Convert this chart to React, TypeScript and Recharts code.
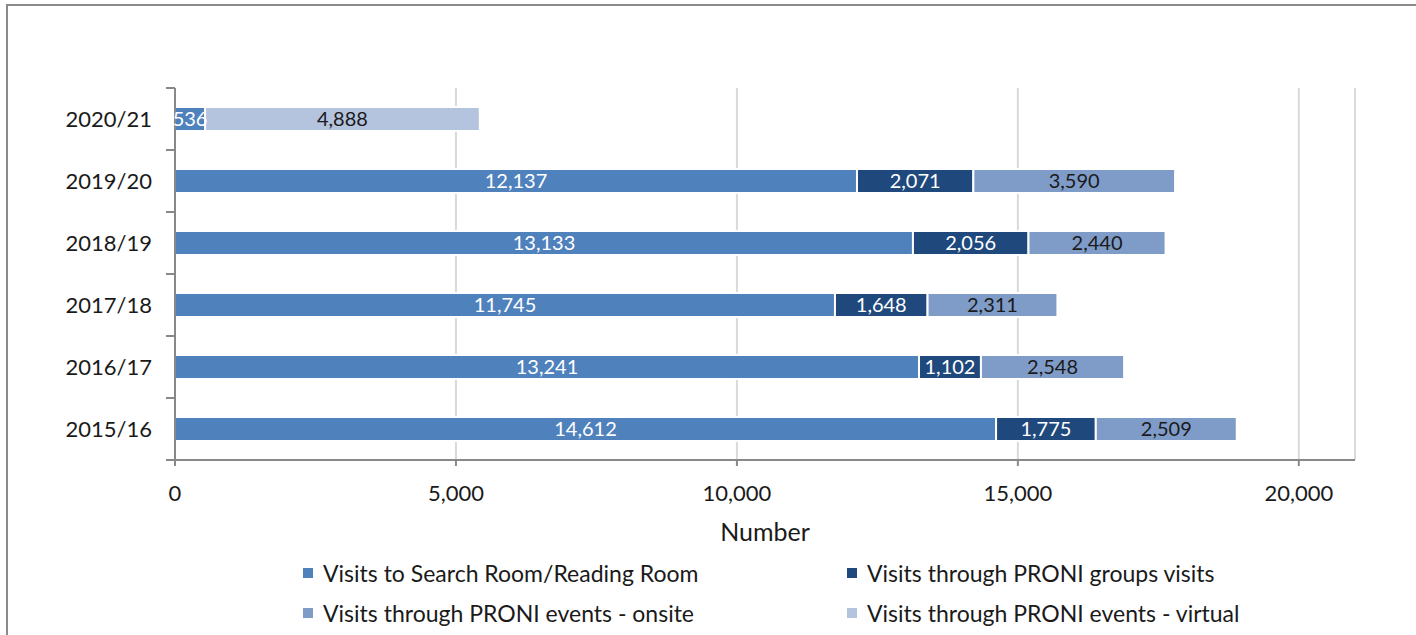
import React from 'react';
import {
  BarChart,
  Bar,
  XAxis,
  YAxis,
  CartesianGrid,
  LabelList,
} from 'recharts';

const years = ['2020/21', '2019/20', '2018/19', '2017/18', '2016/17', '2015/16'];
const searchRoom = [536, 12137, 13133, 11745, 13241, 14612];
const groupVisits = [null, 2071, 2056, 1648, 1102, 1775];
const eventsOnsite = [null, 3590, 2440, 2311, 2548, 2509];
const eventsVirtual = [4888, null, null, null, null, null];
const xTicks = [0, 5000, 10000, 15000, 20000];

const series = [
  { key: 'searchRoom', name: 'Visits to Search Room/Reading Room', color: '#4F81BD', text: '#ffffff' },
  { key: 'groupVisits', name: 'Visits through PRONI groups visits', color: '#1F497D', text: '#ffffff' },
  { key: 'eventsOnsite', name: 'Visits through PRONI events - onsite', color: '#7F9CC9', text: '#1a1a1a' },
  { key: 'eventsVirtual', name: 'Visits through PRONI events - virtual', color: '#B4C3DE', text: '#1a1a1a' },
];

const data = years.map((year, i) => ({
  year,
  searchRoom: searchRoom[i],
  groupVisits: groupVisits[i],
  eventsOnsite: eventsOnsite[i],
  eventsVirtual: eventsVirtual[i],
}));

const FONT = 'Lato, "Open Sans", sans-serif';
const TOP = 88;
const PLOT_H = 372;
const AXIS_X = 175;
const HALF_BAND = PLOT_H / years.length / 2;

const fmt = (v: any) => (v == null ? '' : Number(v).toLocaleString('en-US'));

function YearTick(props: any) {
  const { x, y, payload } = props;
  return (
    <g>
      <text x={x} y={y} dy={8} textAnchor="end" fontSize={22} fill="#1a1a1a">
        {payload.value}
      </text>
      <line x1={AXIS_X - 9} x2={AXIS_X} y1={y - HALF_BAND} y2={y - HALF_BAND} stroke="#888" strokeWidth={2} />
      <line x1={AXIS_X - 9} x2={AXIS_X} y1={y + HALF_BAND} y2={y + HALF_BAND} stroke="#888" strokeWidth={2} />
    </g>
  );
}

const legendPos = [
  { left: 303, top: 573 },
  { left: 847, top: 573 },
  { left: 303, top: 613 },
  { left: 847, top: 613 },
];

export default function App() {
  return (
    <div
      style={{
        position: 'fixed',
        left: 0,
        top: 0,
        width: 1416,
        height: 635,
        overflow: 'hidden',
        background: '#fff',
        fontFamily: FONT,
      }}
    >
      <div
        style={{
          position: 'absolute',
          left: 6,
          top: 4,
          width: 1430,
          height: 660,
          border: '2px solid #8a8a8a',
        }}
      />
      <div style={{ position: 'absolute', left: 0, top: 0 }}>
        <BarChart
          width={1416}
          height={635}
          layout="vertical"
          data={data}
          margin={{ top: TOP, right: 61, bottom: 90, left: AXIS_X - 100 }}
        >
          <CartesianGrid horizontal={false} stroke="#d9d9d9" strokeWidth={2} />
          <XAxis
            type="number"
            domain={[0, 21000]}
            ticks={xTicks}
            tickFormatter={fmt}
            axisLine={{ stroke: '#888', strokeWidth: 2 }}
            tickLine={{ stroke: '#888', strokeWidth: 2 }}
            tickSize={6}
            tickMargin={19}
            tick={{ fill: '#1a1a1a', fontSize: 22 }}
            height={85}
            label={{ value: 'Number', position: 'insideBottom', offset: 4, fontSize: 25, fill: '#1a1a1a' }}
          />
          <YAxis
            type="category"
            dataKey="year"
            width={100}
            axisLine={{ stroke: '#888', strokeWidth: 2 }}
            tickLine={false}
            tickSize={6}
            tickMargin={17}
            tick={<YearTick />}
          />
          {series.map((s) => (
            <Bar
              key={s.key}
              dataKey={s.key}
              name={s.name}
              stackId="a"
              fill={s.color}
              stroke="#ffffff"
              strokeWidth={2}
              barSize={24}
              isAnimationActive={false}
            >
              <LabelList dataKey={s.key} position="center" formatter={fmt} fill={s.text} fontSize={20} />
            </Bar>
          ))}
        </BarChart>
      </div>
      {series.map((s, i) => (
        <div
          key={s.key}
          style={{
            position: 'absolute',
            left: legendPos[i].left,
            top: legendPos[i].top - 14,
            display: 'flex',
            alignItems: 'center',
            fontSize: 23,
            color: '#1a1a1a',
            whiteSpace: 'nowrap',
          }}
        >
          <span style={{ width: 10, height: 10, background: s.color, marginRight: 10, display: 'inline-block' }} />
          <span>{s.name}</span>
        </div>
      ))}
    </div>
  );
}
